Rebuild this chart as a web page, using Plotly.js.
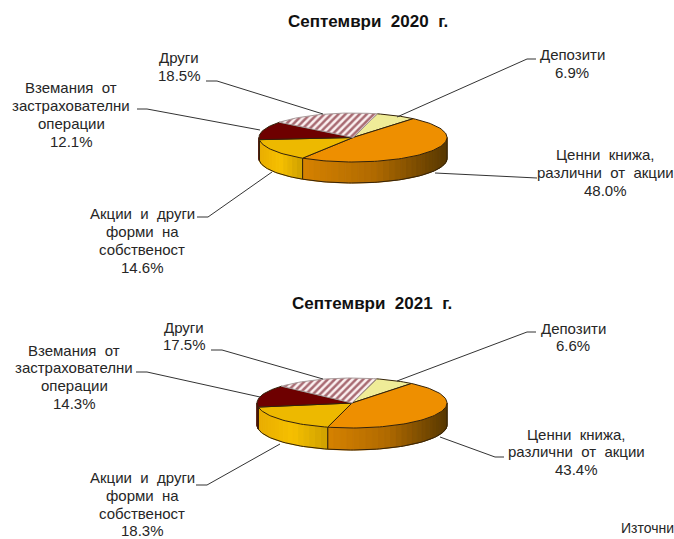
<!DOCTYPE html>
<html><head><meta charset="utf-8">
<script src="https://cdn.plot.ly/plotly-3.0.1.min.js"></script>
<style>html,body{margin:0;padding:0;background:#fff;overflow:hidden}#c{width:674px;height:539px}</style>
</head><body><div id="c"></div>
<script>
const categories = ['Депозити','Ценни книжа, различни от акции','Акции и други форми на собственост','Вземания от застрахователни операции','Други'];
const values2020 = [6.9,48.0,14.6,12.1,18.5];
const values2021 = [6.6,43.4,18.3,14.3,17.5];
const topColors = ['#efec98','#ee8f00','#edb900','#6e0000','#ffffff'];
const title2020 = 'Септември\u00a0 2020\u00a0 г.';
const title2021 = 'Септември\u00a0 2021\u00a0 г.';
const labelLines = [
  ['Депозити'],
  ['Ценни\u00a0 книжа,','различни\u00a0 от\u00a0 акции'],
  ['Акции\u00a0 и\u00a0 други','форми\u00a0 на','собственост'],
  ['Вземания\u00a0 от','застрахователни','операции'],
  ['Други']
];
const wallRamps = [
  null,
  [[214,130,0],[176,106,0],[88,56,0]],
  [[232,172,0],[246,192,0],[206,160,0]],
  [[110,0,0],[110,0,0],[110,0,0]],
  null
];
const pieA = {cx:353,cy:137.5,rx:94,ry:24.5,depth:21,titleX:368,titleY:21,lineStep:18,
  starts:[[572,54],[605,154],[142,213],[71,87],[179,57]],
  leaders:[[[397,117],[527,59],[536,59]],[[435,173],[527,178],[537,178]],[[272,172],[208,217],[197,217]],[[260,130],[147,109],[137,109]],[[323,114],[217,81],[206,81]]]};
const pieB = {cx:352,cy:403,rx:95,ry:25,depth:22,titleX:372,titleY:303,lineStep:17.8,
  starts:[[573,328],[576,434],[142,477.5],[74,350],[184,327]],
  leaders:[[[397,381],[527,332],[536,332]],[[440,437],[495,457],[504,457]],[[280,444],[207,485],[196,485]],[[260,397],[147,372],[136,372]],[[323,379],[222,350],[211,350]]]};
const startAngle = 75;
const edge = '#33220a';
const fontFamily = 'Liberation Sans, Arial, sans-serif';
const traces = [], annotations = [];
const rad = d => d*Math.PI/180;
function arc(p,a,b,dy){const n=Math.max(2,Math.ceil(Math.abs(a-b)/2));const xs=[],ys=[];
  for(let i=0;i<=n;i++){const t=rad(a+(b-a)*i/n);xs.push(p.cx+p.rx*Math.cos(t));ys.push(p.cy+dy-p.ry*Math.sin(t));}return [xs,ys];}
function poly(x,y,o){traces.push(Object.assign({type:'scatter',mode:'lines',x,y,hoverinfo:'skip',showlegend:false,line:{width:0}},o));}
function ramp(r,f){const s=f*(r.length-1),i=Math.min(r.length-2,Math.floor(s)),u=s-i;
  const c=r[i].map((v,k)=>Math.round(v+(r[i+1][k]-v)*u));return `rgb(${c.join(',')})`;}
function drawPie(p,values,title){
  const total=values.reduce((a,b)=>a+b,0);
  let a=startAngle;const spans=values.map(v=>{const s=[a,a-v/total*360];a=s[1];return s;});
  spans.forEach((s,i)=>{
    const lo=Math.max(s[1],-180),hi=Math.min(s[0],0);
    if(hi<=lo||!wallRamps[i])return;
    const n=Math.max(1,Math.ceil((hi-lo)/4));
    const xa=p.cx+p.rx*Math.cos(rad(lo)),xb=p.cx+p.rx*Math.cos(rad(hi));
    for(let k=0;k<n;k++){
      const t1=lo+(hi-lo)*k/n,t2=lo+(hi-lo)*(k+1)/n;
      const [x1,y1]=arc(p,t1,t2,0),[x2,y2]=arc(p,t2,t1,p.depth);
      const mid=p.cx+p.rx*Math.cos(rad((t1+t2)/2));
      const col=ramp(wallRamps[i],(mid-xa)/(xb-xa));
      poly(x1.concat(x2,[x1[0]]),y1.concat(y2,[y1[0]]),{fill:'toself',fillcolor:col,line:{width:1,color:col}});
    }
    const [bx,by]=arc(p,lo,hi,p.depth);
    poly(bx,by,{line:{width:1,color:edge}});
    [s[0],s[1]].forEach(t=>{ if(t>-180&&t<0){const x=p.cx+p.rx*Math.cos(rad(t)),y=p.cy-p.ry*Math.sin(rad(t));poly([x,x],[y,y+p.depth],{line:{width:1,color:edge}});}});
  });
  [-180,0].forEach(t=>{const x=p.cx+p.rx*Math.cos(rad(t));poly([x,x],[p.cy,p.cy+p.depth],{line:{width:1,color:edge}});});
  spans.forEach((s,i)=>{
    const [x,y]=arc(p,s[0],s[1],0);
    const xs=[p.cx].concat(x,[p.cx]),ys=[p.cy].concat(y,[p.cy]);
    const o={fill:'toself',fillcolor:topColors[i],line:{width:1,color:edge}};
    if(i===4){o.fillpattern={shape:'/',bgcolor:'#fbf0f0',fgcolor:'#a86a72',size:5,solidity:0.5};o.line={width:1,color:'#a89a9a'};}
    poly(xs,ys,o);
  });
  p.leaders.forEach(l=>poly(l.map(q=>q[0]),l.map(q=>q[1]),{line:{width:1,color:'#333333'}}));
  labelLines.forEach((lines,i)=>{
    lines.concat([values[i].toFixed(1)+'%']).forEach((t,j)=>{
      annotations.push({xref:'x',yref:'y',x:p.starts[i][0],y:p.starts[i][1]+j*p.lineStep,xanchor:'center',yanchor:'middle',align:'center',showarrow:false,
        text:t,font:{family:fontFamily,size:15,color:'#262626'}});
    });
  });
  annotations.push({xref:'x',yref:'y',x:p.titleX,y:p.titleY,xanchor:'center',yanchor:'middle',showarrow:false,text:'<b>'+title+'</b>',
    font:{family:fontFamily,size:17,color:'#111111'}});
}
drawPie(pieA,values2020,title2020);
drawPie(pieB,values2021,title2021);
annotations.push({xref:'x',yref:'y',x:619,y:528,xanchor:'left',yanchor:'middle',showarrow:false,text:'Източни',font:{family:fontFamily,size:14,color:'#262626'}});
Plotly.newPlot('c',traces,{width:674,height:539,margin:{l:0,r:0,t:0,b:0},paper_bgcolor:'#fff',plot_bgcolor:'#fff',showlegend:false,
  xaxis:{range:[0,674],visible:false,fixedrange:true},yaxis:{range:[539,0],visible:false,fixedrange:true},annotations},{staticPlot:true,displayModeBar:false});
</script></body></html>
